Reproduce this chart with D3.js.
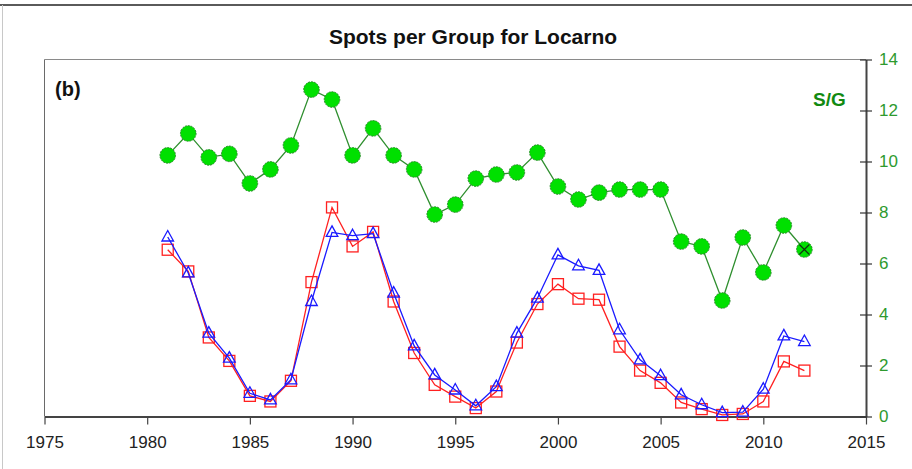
<!DOCTYPE html>
<html>
<head>
<meta charset="utf-8">
<script src="https://cdn.jsdelivr.net/npm/d3@7/dist/d3.min.js"></script>
<style>
  html, body { margin: 0; padding: 0; background: #fff; }
  svg { display: block; font-family: "Liberation Sans", Arial, sans-serif; }
</style>
</head>
<body>
<svg id="chart" width="912" height="469"></svg>
<script>
const years = d3.range(1981, 2013);
const spotsPerGroup = [10.24, 11.1, 10.16, 10.3, 9.14, 9.69, 10.63, 12.82, 12.43, 10.24,
  11.3, 10.24, 9.69, 7.92, 8.31, 9.33, 9.49, 9.57, 10.35, 9.02,
  8.51, 8.78, 8.9, 8.9, 8.9, 6.86, 6.67, 4.55, 7.02, 5.65, 7.49, 6.55];
const redSeries = [6.54, 5.69, 3.10, 2.18, 0.81, 0.59, 1.40, 5.27, 8.20, 6.67,
  7.24, 4.51, 2.49, 1.24, 0.78, 0.33, 0.98, 2.90, 4.41, 5.19,
  4.62, 4.58, 2.74, 1.80, 1.32, 0.55, 0.29, 0.06, 0.10, 0.59, 2.16, 1.80];
const blueSeries = [7.04, 5.63, 3.27, 2.29, 0.91, 0.65, 1.44, 4.51, 7.22, 7.09,
  7.17, 4.84, 2.77, 1.63, 1.04, 0.42, 1.17, 3.27, 4.64, 6.34,
  5.91, 5.73, 3.40, 2.22, 1.60, 0.85, 0.46, 0.15, 0.17, 1.07, 3.16, 2.94];
const xTicks = [1975, 1980, 1985, 1990, 1995, 2000, 2005, 2010, 2015];
const yTicks = [0, 2, 4, 6, 8, 10, 12, 14];
const title = "Spots per Group for Locarno";
const panelLabel = "(b)";
const seriesLabel = "S/G";

(function () {
const svg = d3.select("#chart");
const pL = 44.5, pR = 866, pT = 59.5, pB = 416.5;

const x = d3.scaleLinear().domain([1975, 2015]).range([pL, pR]);
const y = d3.scaleLinear().domain([0, 14]).range([pB, pT]);

// outer window borders
svg.append("line").attr("x1", 0).attr("x2", 912).attr("y1", 5).attr("y2", 5)
  .attr("stroke", "#5a5a5a").attr("stroke-width", 2);
svg.append("line").attr("x1", 2.5).attr("x2", 2.5).attr("y1", 5).attr("y2", 469)
  .attr("stroke", "#c8c8c8").attr("stroke-width", 1);

// frame top and left
svg.append("line").attr("x1", pL).attr("x2", pR).attr("y1", pT).attr("y2", pT)
  .attr("stroke", "#8a8a8a").attr("stroke-width", 1);
svg.append("line").attr("x1", pL).attr("x2", pL).attr("y1", pT).attr("y2", pB)
  .attr("stroke", "#6a6a6a").attr("stroke-width", 1);

// title
svg.append("text").attr("x", 473).attr("y", 44).attr("text-anchor", "middle")
  .attr("font-size", 21).attr("font-weight", "bold").attr("fill", "#111").text(title);

svg.append("text").attr("x", 55).attr("y", 96)
  .attr("font-size", 20).attr("font-weight", "bold").attr("fill", "#111").text(panelLabel);

svg.append("text").attr("x", 813).attr("y", 106)
  .attr("font-size", 19).attr("font-weight", "bold").attr("fill", "#118a11").text(seriesLabel);

// bottom axis
const gx = svg.append("g").attr("transform", `translate(0,${pB})`)
  .call(d3.axisBottom(x).tickValues(xTicks).tickFormat(d3.format("d")).tickSize(8).tickSizeOuter(0));
gx.select(".domain").attr("stroke", "#444").attr("stroke-width", 2);
gx.selectAll(".tick line").attr("stroke", "#444").attr("stroke-width", 1.2);
gx.selectAll(".tick text").attr("font-size", 17).attr("fill", "#222")
  .attr("font-family", "'Liberation Sans', Arial, sans-serif").attr("dy", "1.2em");

// right axis
const gy = svg.append("g").attr("transform", `translate(${pR},0)`)
  .call(d3.axisRight(y).tickValues(yTicks).tickSize(6).tickSizeOuter(0));
gy.select(".domain").attr("stroke", "#444").attr("stroke-width", 2);
gy.selectAll(".tick line").attr("x1", -6).attr("x2", 6).attr("stroke", "#333").attr("stroke-width", 1.2);
gy.selectAll(".tick text").attr("font-size", 17).attr("fill", "#2e9a2e")
  .attr("font-family", "'Liberation Sans', Arial, sans-serif").attr("x", 13);

const mk = (vals) => years.map((yr, i) => ({ yr, v: vals[i] }));
const line = d3.line().x(d => x(d.yr)).y(d => y(d.v));

// green S/G
const gData = mk(spotsPerGroup);
svg.append("path").datum(gData).attr("d", line).attr("fill", "none")
  .attr("stroke", "#2f8f2f").attr("stroke-width", 1.3);
svg.selectAll(".gdot").data(gData).join("circle").attr("class", "gdot")
  .attr("cx", d => x(d.yr)).attr("cy", d => y(d.v)).attr("r", 7.8)
  .attr("fill", "#00e000").attr("stroke", "#2a8a2a").attr("stroke-width", 1)
  .attr("stroke-dasharray", "2,1");
const last = gData[gData.length - 1];
svg.append("path")
  .attr("d", `M${x(last.yr) - 5},${y(last.v) - 5}L${x(last.yr) + 5},${y(last.v) + 5}M${x(last.yr) - 5},${y(last.v) + 5}L${x(last.yr) + 5},${y(last.v) - 5}`)
  .attr("stroke", "#113311").attr("stroke-width", 1.2);

// red squares
const rData = mk(redSeries);
svg.append("path").datum(rData).attr("d", line).attr("fill", "none")
  .attr("stroke", "#ff2020").attr("stroke-width", 1.3);
svg.selectAll(".rsq").data(rData).join("rect").attr("class", "rsq")
  .attr("x", d => x(d.yr) - 5.5).attr("y", d => y(d.v) - 5.5)
  .attr("width", 11).attr("height", 11)
  .attr("fill", "none").attr("stroke", "#ff2020").attr("stroke-width", 1.3);

// blue triangles
const bData = mk(blueSeries);
svg.append("path").datum(bData).attr("d", line).attr("fill", "none")
  .attr("stroke", "#1a1aff").attr("stroke-width", 1.3);
svg.selectAll(".btri").data(bData).join("path").attr("class", "btri")
  .attr("d", d => {
    const cx = x(d.yr), cy = y(d.v);
    return `M${cx},${cy - 6.5}L${cx + 5.8},${cy + 4}L${cx - 5.8},${cy + 4}Z`;
  })
  .attr("fill", "none").attr("stroke", "#1a1aff").attr("stroke-width", 1.3);
})();
</script>
</body>
</html>
